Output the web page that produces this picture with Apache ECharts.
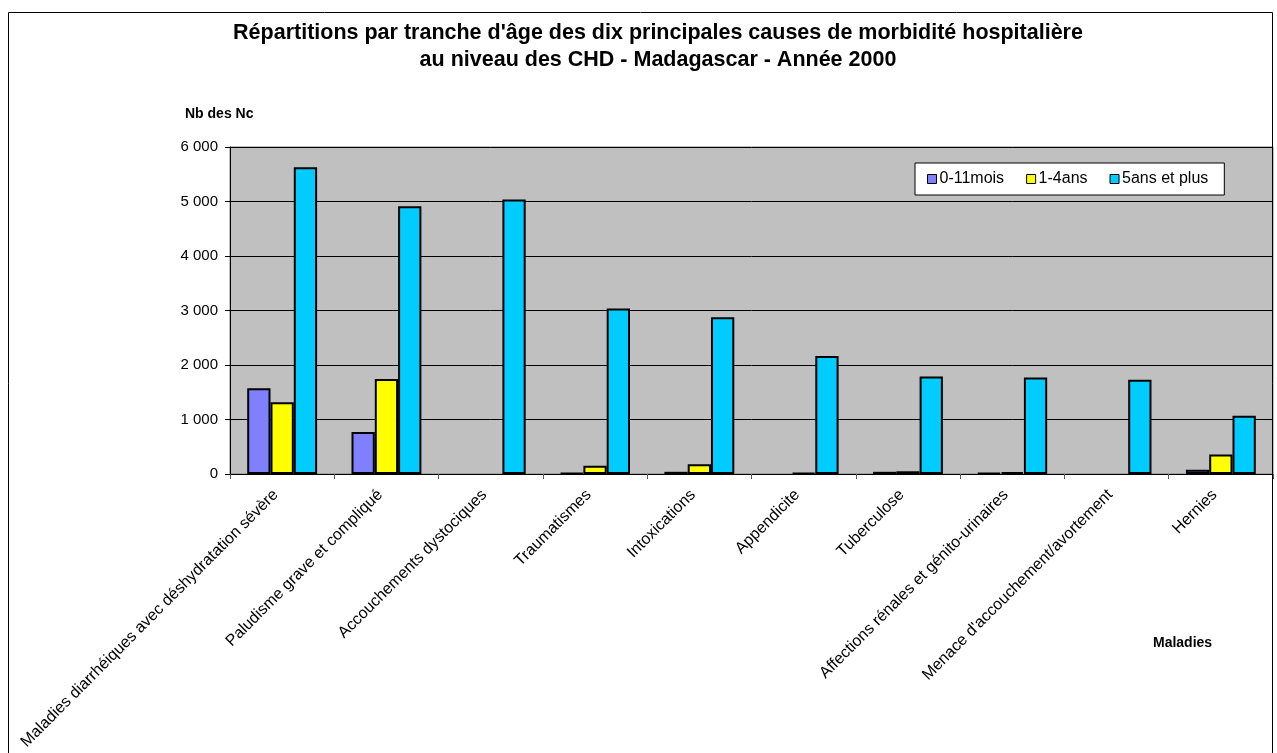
<!DOCTYPE html>
<html>
<head>
<meta charset="utf-8">
<title>Morbidité hospitalière CHD - Madagascar 2000</title>
<script src="https://cdn.jsdelivr.net/npm/echarts@6/dist/echarts.min.js"></script>
<style>
  html, body { margin: 0; padding: 0; background: #fff; }
  #chart { width: 1277px; height: 753px; }
</style>
</head>
<body>
<div id="chart"></div>
<script>
// Ten main causes of hospital morbidity, by age group
const categories = [
  'Maladies diarrhéiques avec déshydratation sévère',
  'Paludisme grave et compliqué',
  'Accouchements dystociques',
  'Traumatismes',
  'Intoxications',
  'Appendicite',
  'Tuberculose',
  'Affections rénales et génito-urinaires',
  "Menace d'accouchement/avortement",
  'Hernies'
];
const seriesNames = ['0-11mois', '1-4ans', '5ans et plus'];
// null = no case recorded
const infants  = [1575, 770, null, 15, 40, null, 40, 15, null, 80];
const children = [1315, 1745, null, 150, 180, 20, 50, 35, null, 360];
const adults   = [5630, 4915, 5035, 3035, 2875, 2165, 1790, 1770, 1730, 1070];
const yTicks = { min: 0, max: 6000, step: 1000 };

const titleLines = [
  "Répartitions par tranche d'âge des dix principales causes de morbidité hospitalière",
  'au niveau des CHD - Madagascar - Année 2000'
];
const yAxisTitle = 'Nb des Nc';
const xAxisTitle = 'Maladies';

const FONT = '"Liberation Sans", Arial, sans-serif';
const colors = ['#8080FF', '#FFFF00', '#00CCFF'];

function thousands(v) {
  return String(v).replace(/\B(?=(\d{3})+(?!\d))/g, ' ');
}

const chart = echarts.init(document.getElementById('chart'), null, { renderer: 'canvas' });

const values = [infants, children, adults];

chart.setOption({
  animation: false,
  textStyle: { fontFamily: FONT, color: '#000' },
  title: {
    text: titleLines.join('\n'),
    left: 653,
    top: 15,
    textAlign: 'center',
    textStyle: {
      fontFamily: FONT,
      fontSize: 21.5,
      fontWeight: 'bold',
      color: '#000',
      lineHeight: 27
    }
  },
  legend: {
    data: seriesNames,
    left: 915,
    top: 163,
    orient: 'horizontal',
    icon: 'rect',
    itemWidth: 9,
    itemHeight: 9,
    itemGap: 22,
    itemStyle: { borderColor: '#000', borderWidth: 1 },
    backgroundColor: '#fff',
    borderColor: '#000',
    borderWidth: 1,
    borderRadius: 0,
    padding: [8, 16, 8, 12],
    textStyle: { fontFamily: FONT, fontSize: 16, color: '#000', padding: [0, 0, 0, -2] }
  },
  grid: {
    left: 230,
    right: 4,
    top: 147,
    bottom: 279,
    show: true,
    backgroundColor: '#C0C0C0',
    borderColor: '#808080',
    borderWidth: 1
  },
  xAxis: {
    type: 'category',
    data: categories,
    boundaryGap: true,
    axisLine: { show: true, lineStyle: { color: '#000', width: 1 } },
    axisTick: { show: true, length: 5, lineStyle: { color: '#555' } },
    axisLabel: {
      interval: 0,
      rotate: 45,
      margin: 12,
      padding: [0, 9, 0, 0],
      fontFamily: FONT,
      fontSize: 16,
      color: '#000'
    },
    splitLine: { show: false }
  },
  yAxis: {
    type: 'value',
    min: yTicks.min,
    max: yTicks.max,
    interval: yTicks.step,
    axisLine: { show: true, lineStyle: { color: '#000', width: 1 } },
    axisTick: { show: true, length: 5, lineStyle: { color: '#000' } },
    axisLabel: {
      margin: 12,
      fontFamily: FONT,
      fontSize: 15,
      color: '#000',
      formatter: thousands
    },
    splitLine: { show: true, lineStyle: { color: '#000', width: 1 } }
  },
  series: seriesNames.map((name, i) => ({
    name,
    type: 'bar',
    data: values[i],
    barGap: '0%',
    barCategoryGap: '33%',
    itemStyle: { color: colors[i], borderColor: '#000', borderWidth: 2 }
  })),
  graphic: [
    {
      type: 'rect',
      shape: { x: 8.5, y: 12.5, width: 1264, height: 800 },
      style: { fill: 'none', stroke: '#000', lineWidth: 1 },
      silent: true,
      z: 100
    },
    {
      type: 'text',
      x: 185,
      y: 107,
      style: {
        text: yAxisTitle,
        fontFamily: FONT,
        fontSize: 14,
        fontWeight: 'bold',
        fill: '#000'
      }
    },
    {
      type: 'text',
      x: 1153,
      y: 636,
      style: {
        text: xAxisTitle,
        fontFamily: FONT,
        fontSize: 14,
        fontWeight: 'bold',
        fill: '#000'
      }
    }
  ]
});
</script>
</body>
</html>
